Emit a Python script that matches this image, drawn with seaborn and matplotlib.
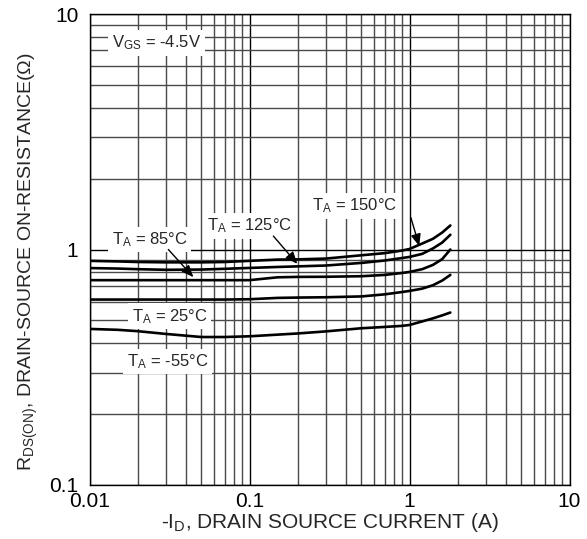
import matplotlib
matplotlib.use("Agg")
import matplotlib.pyplot as plt
import numpy as np
import pandas as pd
import seaborn as sns

# Drain current grid (A) shared by all curves
current = [0.01, 0.015, 0.02, 0.03, 0.05, 0.07, 0.1, 0.15, 0.2, 0.3,
           0.5, 0.7, 0.9, 1.0, 1.2, 1.4, 1.6, 1.8]

# On-resistance (ohm) for each ambient temperature
rds_150 = [0.895, 0.890, 0.885, 0.882, 0.882, 0.885, 0.895, 0.906, 0.908, 0.915,
           0.945, 0.965, 0.990, 1.005, 1.060, 1.110, 1.180, 1.265]
rds_125 = [0.834, 0.830, 0.825, 0.820, 0.822, 0.828, 0.835, 0.843, 0.848, 0.855,
           0.877, 0.898, 0.920, 0.930, 0.958, 1.010, 1.070, 1.155]
rds_85 = [0.741, 0.741, 0.741, 0.741, 0.741, 0.741, 0.741, 0.762, 0.765, 0.766,
          0.770, 0.780, 0.795, 0.803, 0.825, 0.860, 0.910, 1.000]
rds_25 = [0.613, 0.613, 0.613, 0.613, 0.613, 0.613, 0.615, 0.623, 0.625, 0.627,
          0.632, 0.645, 0.660, 0.667, 0.682, 0.705, 0.738, 0.780]
rds_m55 = [0.460, 0.456, 0.450, 0.438, 0.425, 0.425, 0.428, 0.435, 0.440, 0.449,
           0.463, 0.469, 0.474, 0.478, 0.495, 0.510, 0.525, 0.540]

temps = ["150", "125", "85", "25", "-55"]
series = [rds_150, rds_125, rds_85, rds_25, rds_m55]

x_ticks = [0.01, 0.1, 1, 10]
x_tick_labels = ["0.01", "0.1", "1", "10"]
y_ticks = [0.1, 1, 10]
y_tick_labels = ["0.1", "1", "10"]

df = pd.DataFrame({
    "current": np.tile(current, len(series)),
    "rds": np.concatenate(series),
    "temp": np.repeat(temps, len(current)),
})

sns.set_theme(style="white")
plt.rcParams["font.family"] = ["Liberation Sans", "DejaVu Sans"]
plt.rcParams["mathtext.default"] = "regular"

fig = plt.figure(figsize=(5.87, 5.39), dpi=100)
ax = fig.add_axes([89.5 / 587, 54 / 539, 480 / 587, 471 / 539])

ax.set_xscale("log")
ax.set_yscale("log")
ax.set_xlim(0.01, 10)
ax.set_ylim(0.1, 10)

# log grid: majors black, minors dark gray
ax.grid(which="major", color="black", linewidth=1.0)
ax.grid(which="minor", color="#4a4a4a", linewidth=1.0)
ax.minorticks_on()
ax.set_axisbelow(True)

sns.lineplot(data=df, x="current", y="rds", hue="temp", units="temp",
             estimator=None, sort=False, palette=["black"] * 5,
             linewidth=1.9, legend=False, ax=ax)

ax.set_xticks(x_ticks)
ax.set_xticklabels(x_tick_labels)
ax.set_yticks(y_ticks)
ax.set_yticklabels(y_tick_labels)
ax.tick_params(which="both", length=0, labelsize=15, colors="black")
ax.tick_params(axis="x", pad=5)
ax.tick_params(axis="y", pad=8)

for s in ax.spines.values():
    s.set_color("black")
    s.set_linewidth(1.0)

ax.set_xlabel("-I$_D$, DRAIN SOURCE CURRENT (A)", fontsize=15, labelpad=0)
ax.set_ylabel("R$_{DS(ON)}$, DRAIN-SOURCE ON-RESISTANCE(Ω)", fontsize=14, labelpad=4)
ax.yaxis.set_label_coords(-0.104, 0.475)

box = dict(facecolor="white", edgecolor="none", pad=2.5)
txt = dict(fontsize=12, ha="left", va="center", bbox=box, zorder=5)

ax.text(0.0138, 7.55, "V$_{GS}$ = -4.5V", **txt)
ax.text(0.245, 1.53, "T$_A$ = 150°C", **txt)
ax.text(0.054, 1.258, "T$_A$ = 125°C", **txt)
ax.text(0.0138, 1.103, "T$_A$ = 85°C", **txt)
ax.text(0.0184, 0.521, "T$_A$ = 25°C", **txt)
ax.text(0.0171, 0.335, "T$_A$ = -55°C", **txt)

arrow = dict(arrowstyle="-|>,head_length=0.6,head_width=0.25", color="black",
             lw=1.0, shrinkA=0, shrinkB=0)
ax.annotate("", xy=(1.151, 1.034), xytext=(1.02, 1.365), arrowprops=arrow, zorder=6)
ax.annotate("", xy=(0.199, 0.869), xytext=(0.141, 1.14), arrowprops=arrow, zorder=6)
ax.annotate("", xy=(0.0446, 0.763), xytext=(0.0311, 1.0), arrowprops=arrow, zorder=6)

fig.savefig("out.png", dpi=100, facecolor="white")
